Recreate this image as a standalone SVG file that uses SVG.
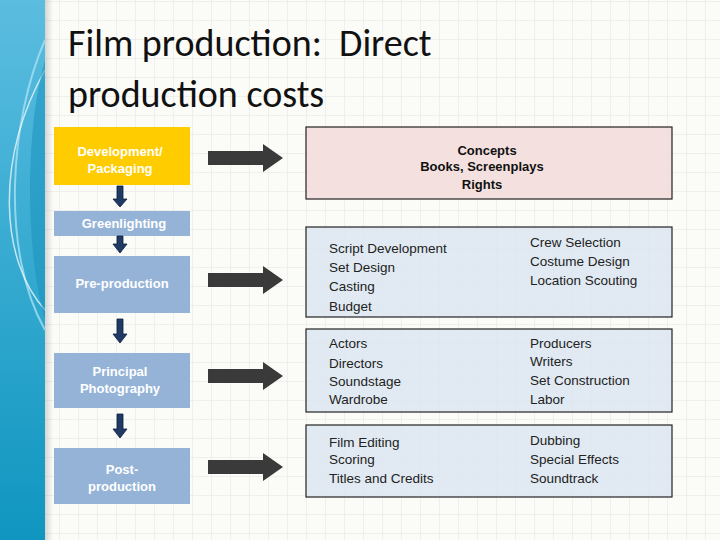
<svg xmlns="http://www.w3.org/2000/svg" width="720" height="540" viewBox="0 0 720 540">
<defs>
<pattern id="grid" width="19" height="19" patternUnits="userSpaceOnUse" x="3" y="2"><path d="M19 0V19H0" fill="none" stroke="#e3e3e3" stroke-width="1"/></pattern>
<linearGradient id="side" x1="0" y1="0" x2="0" y2="1"><stop offset="0" stop-color="#5bbde0"/><stop offset="1" stop-color="#0f96c0"/></linearGradient>
<linearGradient id="shade" x1="0" y1="0" x2="1" y2="0"><stop offset="0" stop-color="#000" stop-opacity="0.15"/><stop offset="1" stop-color="#000" stop-opacity="0"/></linearGradient>
</defs>
<style>
.lbox{fill:#95b3d7}
.lt{font-family:"Liberation Sans",Arial,sans-serif;font-size:13px;font-weight:bold;fill:#fff;text-anchor:middle}
.rbox{fill:#dce6f1;fill-opacity:0.85;stroke:#222;stroke-width:1.2}
.rt{font-family:"Liberation Sans",Arial,sans-serif;font-size:13.5px;fill:#222}
.bt{font-family:"Liberation Sans",Arial,sans-serif;font-size:13px;font-weight:bold;fill:#111;text-anchor:middle}
.ra{fill:#3a3a3a}
.da{fill:#1f3a64;stroke:#0d1e3a;stroke-width:0.8}
.title{font-family:Calibri,Carlito,"Open Sans","Liberation Sans",sans-serif;font-size:38px;fill:#111;white-space:pre}
</style>
<rect width="720" height="540" fill="#fbfbf8"/>
<rect width="720" height="540" fill="url(#grid)"/>
<g id="sidebar">
<rect width="45" height="540" fill="url(#side)"/>
<path d="M45 40 C10 120 0 250 45 330" fill="none" stroke="#a8e0f2" stroke-width="2" opacity="0.8"/>
<path d="M45 70 C-5 160 0 260 45 310" fill="none" stroke="#ffffff" stroke-width="1.5" opacity="0.7"/>
<path d="M45 60 C25 130 25 250 45 320 Z" fill="#1590bb" opacity="0.5"/>
<rect x="45" width="8" height="540" fill="url(#shade)"/>
</g>
<text class="title" x="68" y="56" xml:space="preserve">Film production:  Direct</text>
<text class="title" x="68" y="107">production costs</text>
<g id="n-dev"><rect x="54" y="127" width="136" height="58" fill="#ffcc00"/><text class="lt" x="120" y="156">Development/</text><text class="lt" x="120" y="173">Packaging</text></g>
<g id="n-green"><rect class="lbox" x="54" y="211" width="136" height="25"/><text class="lt" x="124" y="228">Greenlighting</text></g>
<g id="n-pre"><rect class="lbox" x="54" y="256" width="136" height="57"/><text class="lt" x="122" y="288">Pre-production</text></g>
<g id="n-pp"><rect class="lbox" x="54" y="353" width="136" height="55"/><text class="lt" x="120" y="376">Principal</text><text class="lt" x="120" y="393">Photography</text></g>
<g id="n-post"><rect class="lbox" x="54" y="448" width="136" height="56"/><text class="lt" x="122" y="474">Post-</text><text class="lt" x="122" y="491">production</text></g>
<g id="n-concepts"><rect x="306" y="127" width="366" height="72" fill="#f2dcdb" fill-opacity="0.85" stroke="#222" stroke-width="1.2"/><text class="bt" x="487" y="155">Concepts</text><text class="bt" x="482" y="171">Books, Screenplays</text><text class="bt" x="482" y="189">Rights</text></g>
<g id="n-preitems"><rect class="rbox" x="306" y="227" width="366" height="90"/>
<text class="rt" x="329" y="253">Script Development</text><text class="rt" x="329" y="272">Set Design</text><text class="rt" x="329" y="291">Casting</text><text class="rt" x="329" y="311">Budget</text>
<text class="rt" x="530" y="247">Crew Selection</text><text class="rt" x="530" y="266">Costume Design</text><text class="rt" x="530" y="285">Location Scouting</text></g>
<g id="n-ppitems"><rect class="rbox" x="306" y="329" width="366" height="83"/>
<text class="rt" x="329" y="348">Actors</text><text class="rt" x="329" y="368">Directors</text><text class="rt" x="329" y="386">Soundstage</text><text class="rt" x="329" y="404">Wardrobe</text>
<text class="rt" x="530" y="348">Producers</text><text class="rt" x="530" y="366">Writers</text><text class="rt" x="530" y="385">Set Construction</text><text class="rt" x="530" y="404">Labor</text></g>
<g id="n-postitems"><rect class="rbox" x="306" y="425" width="366" height="72"/>
<text class="rt" x="329" y="447">Film Editing</text><text class="rt" x="329" y="464">Scoring</text><text class="rt" x="329" y="483">Titles and Credits</text>
<text class="rt" x="530" y="445">Dubbing</text><text class="rt" x="530" y="464">Special Effects</text><text class="rt" x="530" y="483">Soundtrack</text></g>
<g id="connectors">
<path class="ra" d="M208 151H263V144L283 158L263 172V165H208Z"/>
<path class="ra" d="M208 273H263V266L283 280L263 294V287H208Z"/>
<path class="ra" d="M208 369H263V362L283 376L263 390V383H208Z"/>
<path class="ra" d="M208 460H263V453L283 467L263 481V474H208Z"/>
<path class="da" d="M117 186H123V199H127L120 207L113 199H117Z"/>
<path class="da" d="M117 236H123V244H127L120 253L113 244H117Z"/>
<path class="da" d="M117 319H123V334H127L120 343L113 334H117Z"/>
<path class="da" d="M117 414H123V429H127L120 438L113 429H117Z"/>
</g>
</svg>
